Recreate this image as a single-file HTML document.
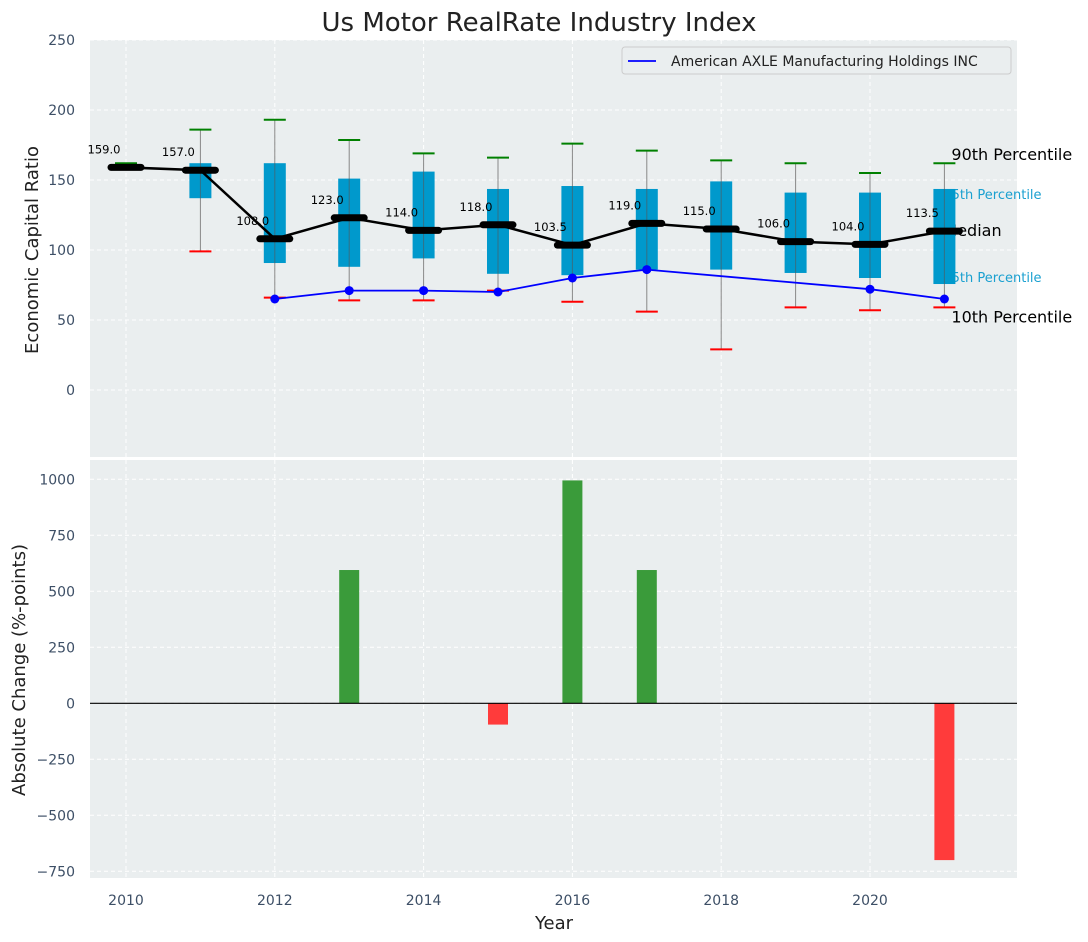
<!DOCTYPE html>
<html><head><meta charset="utf-8"><style>
body{margin:0;background:#fff;}
svg{display:block;font-family:"DejaVu Sans","Liberation Sans",sans-serif;}
</style></head><body>
<svg id="chart" width="1088" height="942" xmlns="http://www.w3.org/2000/svg"></svg>
<script>
const years=[2010,2011,2012,2013,2014,2015,2016,2017,2018,2019,2020,2021];
const medians=[159,157,108,123,114,118,103.5,119,115,106,104,113.5];
const q1s=[159,137,90.7,88,94,83,82,86,86,83.6,80,75.7];
const q3s=[159,162,162,151,156,143.6,145.7,143.6,149,141,141,143.6];
const p90s=[162,186,193,178.6,169,166,176,171,164,162,155,162];
const p10s=[159,99,66,64,64,71,63,56,29,59,57,59];
const companyYears=[2012,2013,2014,2015,2016,2017,2020,2021];
const companyVals=[65,71,71,70,80,86,72,65];
const changeYears=[2013,2015,2016,2017,2021];
const changeVals=[595,-95,995,595,-700];
const topTicks=[0,50,100,150,200,250];
const botTicks=[-750,-500,-250,0,250,500,750,1000];
const xTicks=[2010,2012,2014,2016,2018,2020];

const svg=document.getElementById('chart');
const NS='http://www.w3.org/2000/svg';
function el(tag,attrs,parent){const e=document.createElementNS(NS,tag);for(const k in attrs)e.setAttribute(k,attrs[k]);(parent||svg).appendChild(e);return e;}
function txt(s,attrs,parent){const e=el('text',attrs,parent);e.textContent=s;return e;}

const L=90,R=1017;
const x=v=>126+(v-2010)*74.4;
const yT=v=>390-v*1.4;
const yB=v=>703.3-v*0.224;
const TT=40,TB=457,BT=460,BB=878;

let t=txt('Us Motor RealRate Industry Index',{x:539,y:31,'font-size':26,'text-anchor':'middle',fill:'#222'});



let bg=el('rect',{x:L,y:TT,width:R-L,height:TB-TT,fill:'#eaeeef'});


let bg2=el('rect',{x:L,y:BT,width:R-L,height:BB-BT,fill:'#eaeeef'});



xTicks.forEach(v=>{
  el('line',{x1:x(v),x2:x(v),y1:TT,y2:TB,stroke:'#fff','stroke-dasharray':'4,3','stroke-width':1});
  el('line',{x1:x(v),x2:x(v),y1:BT,y2:BB,stroke:'#fff','stroke-dasharray':'4,3','stroke-width':1});
  let tl=txt(v,{x:x(v),y:905,'font-size':14,'text-anchor':'middle',fill:'#3d4f66'});
  
  
});
topTicks.forEach(v=>{
  el('line',{x1:L,x2:R,y1:yT(v),y2:yT(v),stroke:'#fff','stroke-dasharray':'4,3'});
  let tl=txt(v,{x:75,y:yT(v)+5,'font-size':14,'text-anchor':'end',fill:'#3d4f66'});
  
  
});
botTicks.forEach(v=>{
  el('line',{x1:L,x2:R,y1:yB(v),y2:yB(v),stroke:'#fff','stroke-dasharray':'4,3'});
  let tl=txt(String(v).replace('-','\u2212'),{x:75,y:yB(v)+5,'font-size':14,'text-anchor':'end',fill:'#3d4f66'});
  
  
});

let yl=txt('Economic Capital Ratio',{x:0,y:0,'font-size':18,'text-anchor':'middle',fill:'#222',transform:'translate(38,250) rotate(-90)'});


let yl2=txt('Absolute Change (%-points)',{x:0,y:0,'font-size':18,'text-anchor':'middle',fill:'#222',transform:'translate(25,670) rotate(-90)'});


let xl=txt('Year',{x:554,y:929,'font-size':18,'text-anchor':'middle',fill:'#222'});



const lastX=x(2021);
[['90th Percentile',p90s[11],16,'#000',8,-3],['75th Percentile',q3s[11],13,'#1aa0d0',0,10],['Median',medians[11],16,'#000',0,5],['25th Percentile',q1s[11],13,'#1aa0d0',0,-2],['10th Percentile',p10s[11],16,'#000',8,15]].forEach(([s,v,fs,c,dx,dy])=>{
  let e=txt(s,{x:lastX+dx-1,y:yT(v)+dy,'font-size':fs,fill:c});
  
  
});

years.forEach((yr,i)=>{
  const cx=x(yr);
  let w=el('line',{x1:cx,x2:cx,y1:yT(p90s[i]),y2:yT(p10s[i]),stroke:'#888','stroke-width':1});
  
  
  if(q3s[i]>q1s[i]){
    let b=el('rect',{x:cx-11,y:yT(q3s[i]),width:22,height:yT(q1s[i])-yT(q3s[i]),fill:'#0099cc'});
    
    
    el('line',{x1:cx,x2:cx,y1:yT(q3s[i]),y2:yT(q1s[i]),stroke:'#555','stroke-width':1,opacity:0.6});
  }
  let c1=el('line',{x1:cx-11,x2:cx+11,y1:yT(p90s[i]),y2:yT(p90s[i]),stroke:'green','stroke-width':2});
  
  
  if(p10s[i]<medians[i]-1){
    let c2=el('line',{x1:cx-11,x2:cx+11,y1:yT(p10s[i]),y2:yT(p10s[i]),stroke:'red','stroke-width':2});
    
    
  }
});

let mp=el('polyline',{points:years.map((y,i)=>x(y)+','+yT(medians[i])).join(' '),fill:'none',stroke:'#000','stroke-width':2.5});


years.forEach((yr,i)=>{
  let m=el('line',{x1:x(yr)-15,x2:x(yr)+15,y1:yT(medians[i]),y2:yT(medians[i]),stroke:'#000','stroke-width':7,'stroke-linecap':'round'});
  
  
  let lb=txt(medians[i].toFixed(1),{x:x(yr)-22,y:yT(medians[i])-14,'font-size':11.5,'text-anchor':'middle',fill:'#000'});
  
  
});

let cp=el('polyline',{points:companyYears.map((y,i)=>x(y)+','+yT(companyVals[i])).join(' '),fill:'none',stroke:'blue','stroke-width':1.8});


companyYears.forEach((yr,i)=>{
  let d=el('circle',{cx:x(yr),cy:yT(companyVals[i]),r:4.5,fill:'blue'});
  
  
});

let lg=el('g',{});


el('rect',{x:622,y:47,width:389,height:27,fill:'#eaeeef',stroke:'#ccc',rx:3},lg);
el('line',{x1:628,x2:656,y1:61,y2:61,stroke:'blue','stroke-width':1.8},lg);
txt('American AXLE Manufacturing Holdings INC',{x:671,y:66,'font-size':14,fill:'#222'},lg);

changeYears.forEach((yr,i)=>{
  const v=changeVals[i];
  let b=el('rect',{x:x(yr)-10,y:Math.min(yB(v),yB(0)),width:20,height:Math.abs(yB(v)-yB(0)),fill:v>=0?'#3a9b3a':'#ff3b3b'});
  
  
});
let zl=el('line',{x1:L,x2:R,y1:yB(0),y2:yB(0),stroke:'#000','stroke-width':1.2});


</script>
</body></html>
